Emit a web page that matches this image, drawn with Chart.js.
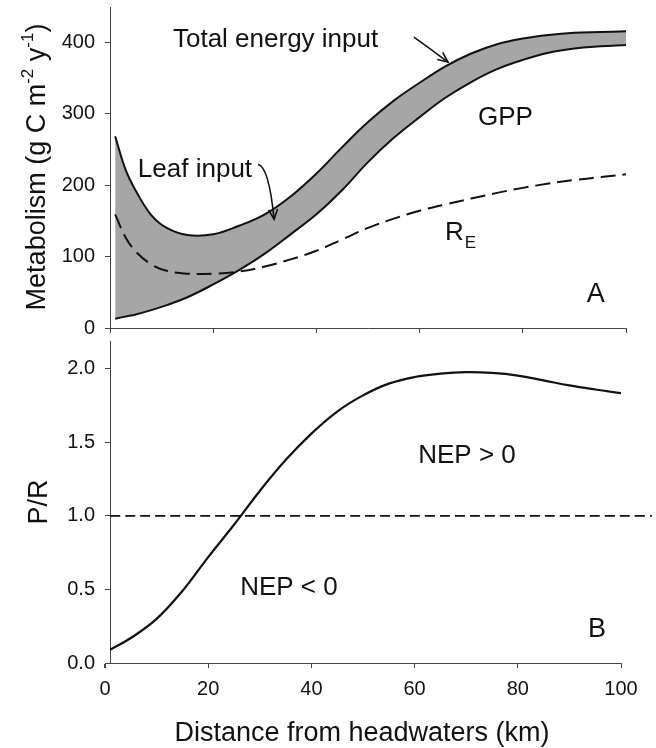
<!DOCTYPE html>
<html>
<head>
<meta charset="utf-8">
<script src="https://cdn.jsdelivr.net/npm/chart.js@4.4.1/dist/chart.umd.min.js"></script>
<style>
  html, body { margin: 0; padding: 0; background: #fff; }
  #wrap { position: relative; width: 656px; height: 748px; }
  #topBox { position: absolute; left: 0; top: 0; width: 656px; height: 338px; }
  #botBox { position: absolute; left: 0; top: 338px; width: 656px; height: 410px; }
</style>
</head>
<body>
<div id="wrap">
  <div id="topBox"><canvas id="topChart"></canvas></div>
  <div id="botBox"><canvas id="botChart"></canvas></div>
</div>
<script>
// --- data ---
// panel A: metabolism along the river (g C m-2 y-1)
const distKm = [1, 3, 5, 8, 11, 15, 20, 25, 30, 35, 40, 45, 50, 55, 60, 65, 70, 75, 80, 85, 90, 95, 100];
const totalInput = [268, 222, 192, 158, 140, 130, 131, 143, 159, 184, 216, 253, 288, 318, 343, 366, 384, 397, 405, 410, 413, 414, 415];
const gpp = [13, 16, 19, 25, 32, 43, 61, 81, 104, 131, 159, 193, 232, 266, 295, 322, 344, 362, 375, 385, 391, 394, 396];
const respiration = [159, 127, 107, 89, 80, 76, 76, 79, 86, 96, 108, 124, 140, 153, 164, 173, 181, 189, 196, 202, 207, 211, 215];

// panel B: P/R ratio
const prKm = [1, 5, 10, 15, 20, 25, 30, 35, 40, 45, 50, 55, 60, 65, 70, 75, 80, 85, 90, 95, 100];
const prRatio = [0.09, 0.17, 0.30, 0.49, 0.72, 0.94, 1.17, 1.38, 1.56, 1.71, 1.82, 1.9, 1.945, 1.968, 1.978, 1.973, 1.955, 1.922, 1.888, 1.86, 1.835];
const prThreshold = 1.0;
const thresholdKm = [0.97, 106];

// tick labels
const distTicks = [0, 20, 40, 60, 80, 100];
const metabTicks = [0, 100, 200, 300, 400];
const prTicks = [0, 0.5, 1.0, 1.5, 2.0];

// --- styling ---
const FONT = "'Liberation Sans', Arial, sans-serif";
const INK = '#111';
const AXIS = '#444';
const BAND = '#a6a6a6';

function pts(xs, ys) {
  return xs.map((x, i) => ({ x: x, y: ys[i] }));
}

function setTicks(list) {
  return function (scale) {
    scale.ticks = list.map(v => ({ value: v }));
  };
}

// open V arrow head, optional bend through a control point
function arrow(ctx, x0, y0, cx, cy, x1, y1) {
  ctx.beginPath();
  ctx.moveTo(x0, y0);
  ctx.quadraticCurveTo(cx, cy, x1, y1);
  ctx.stroke();
  const ang = Math.atan2(y1 - cy, x1 - cx);
  const len = 11, spread = 0.42;
  ctx.beginPath();
  ctx.moveTo(x1 - len * Math.cos(ang - spread), y1 - len * Math.sin(ang - spread));
  ctx.lineTo(x1, y1);
  ctx.lineTo(x1 - len * Math.cos(ang + spread), y1 - len * Math.sin(ang + spread));
  ctx.stroke();
}

// rotated axis title, pieces = [[text, size, raise], ...]
function sideTitle(ctx, pieces, baseX, centerY) {
  ctx.save();
  let total = 0;
  pieces.forEach(p => {
    ctx.font = p[1] + 'px ' + FONT;
    total += ctx.measureText(p[0]).width;
  });
  ctx.translate(baseX, centerY);
  ctx.rotate(-Math.PI / 2);
  ctx.fillStyle = INK;
  ctx.textBaseline = 'alphabetic';
  ctx.textAlign = 'left';
  let x = -total / 2;
  pieces.forEach(p => {
    ctx.font = p[1] + 'px ' + FONT;
    ctx.fillText(p[0], x, -p[2]);
    x += ctx.measureText(p[0]).width;
  });
  ctx.restore();
}

// notes on panel A
const topNotes = {
  id: 'topNotes',
  afterDraw(chart) {
    const ctx = chart.ctx;
    const xs = chart.scales.x, ys = chart.scales.y;
    const X = v => xs.getPixelForValue(v);
    const Y = v => ys.getPixelForValue(v);
    ctx.save();
    ctx.fillStyle = INK;
    ctx.strokeStyle = INK;
    ctx.lineWidth = 1.6;
    ctx.textBaseline = 'alphabetic';
    ctx.textAlign = 'left';
    ctx.font = '26px ' + FONT;
    ctx.fillText('Total energy input', X(12.2), Y(393));
    ctx.fillText('Leaf input', X(5.4), Y(211));
    ctx.fillText('GPP', X(71.3), Y(284));
    ctx.fillText('R', X(64.9), Y(123));
    const rw = ctx.measureText('R').width;
    ctx.font = '27px ' + FONT;
    ctx.fillText('A', X(92.4), Y(36));
    ctx.font = '17px ' + FONT;
    ctx.fillText('E', X(64.9) + rw + 1, Y(123) + 8);

    arrow(ctx, X(58.9), Y(407), X(62.2), Y(390), X(65.5), Y(372));
    arrow(ctx, X(28.7), Y(229), X(30.8), Y(225), X(31.8), Y(152));

    sideTitle(ctx, [
      ['Metabolism (g C m', 27, 0],
      ['-2', 17, 12],
      [' y', 27, 0],
      ['-1', 17, 12],
      [')', 27, 0]
    ], 45, 167);
    ctx.restore();
  }
};

// notes on panel B
const botNotes = {
  id: 'botNotes',
  afterDraw(chart) {
    const ctx = chart.ctx;
    const xs = chart.scales.x, ys = chart.scales.y;
    const X = v => xs.getPixelForValue(v);
    const Y = v => ys.getPixelForValue(v);
    const area = chart.chartArea;
    ctx.save();
    // axis stub left of the y axis, down to the 0 km tick
    ctx.strokeStyle = AXIS;
    ctx.lineWidth = 1;
    ctx.beginPath();
    ctx.moveTo(X(0), Math.round(area.bottom) + 0.5);
    ctx.lineTo(area.left, Math.round(area.bottom) + 0.5);
    ctx.moveTo(Math.round(X(0)) + 0.5, area.bottom);
    ctx.lineTo(Math.round(X(0)) + 0.5, area.bottom + 5);
    ctx.stroke();

    ctx.fillStyle = INK;
    ctx.textBaseline = 'alphabetic';
    ctx.textAlign = 'left';
    ctx.font = '26px ' + FONT;
    ctx.fillText('NEP > 0', X(60.7), Y(1.36));
    ctx.fillText('NEP < 0', X(26.2), Y(0.463));
    ctx.font = '27px ' + FONT;
    ctx.fillText('B', X(93.6), Y(0.177));

    ctx.textAlign = 'center';
    ctx.fillText('Distance from headwaters (km)', 362, 403);

    sideTitle(ctx, [['P/R', 27, 0]], 47, 164);
    ctx.restore();
  }
};

const lineStyle = { pointRadius: 0, borderColor: INK, tension: 0.4 };

function axisGrid() {
  return { drawOnChartArea: false, drawTicks: true, tickLength: 5, color: AXIS, lineWidth: 1 };
}

new Chart(document.getElementById('topChart'), {
  type: 'line',
  data: {
    datasets: [
      // band of leaf input between total input and GPP, drawn underneath
      Object.assign({ data: pts(distKm, totalInput), borderWidth: 2, fill: '+1', backgroundColor: BAND, order: 3 }, lineStyle),
      Object.assign({ data: pts(distKm, gpp), borderWidth: 2, fill: false, order: 2 }, lineStyle),
      Object.assign({ data: pts(distKm, respiration), borderWidth: 2, borderDash: [15, 7], fill: false, order: 1 }, lineStyle)
    ]
  },
  options: {
    responsive: true,
    maintainAspectRatio: false,
    animation: false,
    layout: { padding: { top: 7, right: 30, left: 0, bottom: 0 } },
    plugins: { legend: { display: false }, tooltip: { enabled: false } },
    scales: {
      x: {
        type: 'linear', min: 0, max: 100,
        afterBuildTicks: setTicks(distTicks),
        afterFit: s => { s.height = 10; s.paddingLeft = 0; s.paddingRight = 0; },
        grid: axisGrid(),
        border: { color: AXIS, width: 1 },
        ticks: { color: 'rgba(0,0,0,0)', font: { family: FONT, size: 20 } }
      },
      y: {
        type: 'linear', min: 0, max: 449,
        afterBuildTicks: setTicks(metabTicks),
        afterFit: s => { s.width = 110; s.paddingTop = 0; s.paddingBottom = 0; },
        grid: axisGrid(),
        border: { color: AXIS, width: 1 },
        ticks: { color: INK, padding: 10, font: { family: FONT, size: 20 } }
      }
    }
  },
  plugins: [topNotes]
});

new Chart(document.getElementById('botChart'), {
  type: 'line',
  data: {
    datasets: [
      Object.assign({ data: pts(prKm, prRatio), borderWidth: 2.2, fill: false }, lineStyle),
      Object.assign({ data: pts(thresholdKm, thresholdKm.map(() => prThreshold)), borderWidth: 1.8, borderDash: [10, 5], fill: false, clip: false }, lineStyle)
    ]
  },
  options: {
    responsive: true,
    maintainAspectRatio: false,
    animation: false,
    layout: { padding: { top: 3, right: 35, left: 0, bottom: 0 } },
    plugins: { legend: { display: false }, tooltip: { enabled: false } },
    scales: {
      x: {
        type: 'linear', min: 0.97, max: 100,
        afterBuildTicks: setTicks(distTicks),
        afterFit: s => { s.height = 85; s.paddingLeft = 0; s.paddingRight = 0; },
        grid: axisGrid(),
        border: { color: AXIS, width: 1 },
        ticks: { color: INK, padding: 9, maxRotation: 0, autoSkip: false, font: { family: FONT, size: 20 } }
      },
      y: {
        type: 'linear', min: 0, max: 2.19,
        afterBuildTicks: setTicks(prTicks),
        afterFit: s => { s.width = 110; s.paddingTop = 0; s.paddingBottom = 0; },
        grid: axisGrid(),
        border: { color: AXIS, width: 1 },
        ticks: { color: INK, padding: 10, font: { family: FONT, size: 20 }, callback: v => v.toFixed(1) }
      }
    }
  },
  plugins: [botNotes]
});
</script>
</body>
</html>
